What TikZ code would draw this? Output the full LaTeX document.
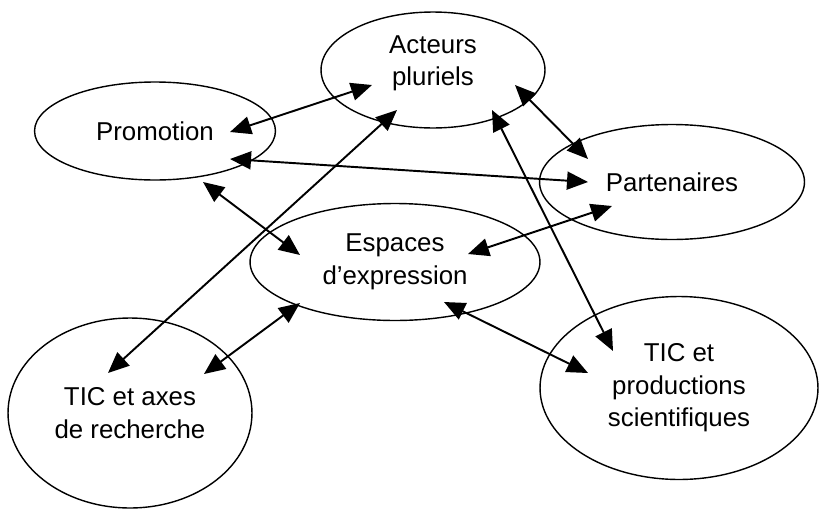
\documentclass[tikz,border=0pt]{standalone}
\usepackage{fontspec}
\setmainfont{Liberation Sans}
\usetikzlibrary{shapes.geometric,arrows.meta}
\tikzset{
  bulle/.style={ellipse, draw, line width=0.8pt, inner sep=0pt, align=center,
    font=\fontsize{14.7}{18.5}\selectfont},
  fleche/.style={{Triangle[length=0.42cm,width=0.36cm]}-{Triangle[length=0.42cm,width=0.36cm]}, line width=1.1pt}
}
\newcommand{\lien}[4]{\draw[fleche] ([shift={#2}]#1.center) -- ([shift={#4}]#3.center);}

\begin{document}
\begin{tikzpicture}[x=0.02cm,y=-0.02cm]
  \useasboundingbox (0,0) rectangle (821,514);
  \node[bulle, minimum width=4.48cm, minimum height=2.32cm] (acteurs) at (433,70) {Acteurs\\pluriels\\[-8pt]};
  \node[bulle, minimum width=4.82cm, minimum height=1.96cm] (promo) at (155,131) {Promotion};
  \node[bulle, minimum width=5.30cm, minimum height=2.30cm] (parte) at (672,182) {Partenaires};
  \node[bulle, minimum width=5.80cm, minimum height=2.34cm] (espaces) at (395,262) {Espaces\\d'expression};
  \node[bulle, minimum width=4.88cm, minimum height=3.80cm] (axes) at (130,413) {TIC et axes\\de recherche};
  \node[bulle, minimum width=5.56cm, minimum height=3.66cm] (prod) at (679,388) {TIC et\\productions\\scientifiques};
  % liens
  \lien{promo}{(75,1)}{acteurs}{(-61,15)}
  \lien{promo}{(75,28)}{parte}{(-84,0)}
  \lien{promo}{(48,51)}{espaces}{(-95,-7)}
  \lien{acteurs}{(82,15)}{parte}{(-84,-23)}
  \lien{acteurs}{(59,40)}{prod}{(-66,-37)}
  \lien{acteurs}{(-36,40)}{axes}{(-22,-40)}
  \lien{parte}{(-60,24)}{espaces}{(73,-8)}
  \lien{espaces}{(-95,41)}{axes}{(74,-39)}
  \lien{espaces}{(49,40)}{prod}{(-91,-15)}
\end{tikzpicture}
\end{document}
